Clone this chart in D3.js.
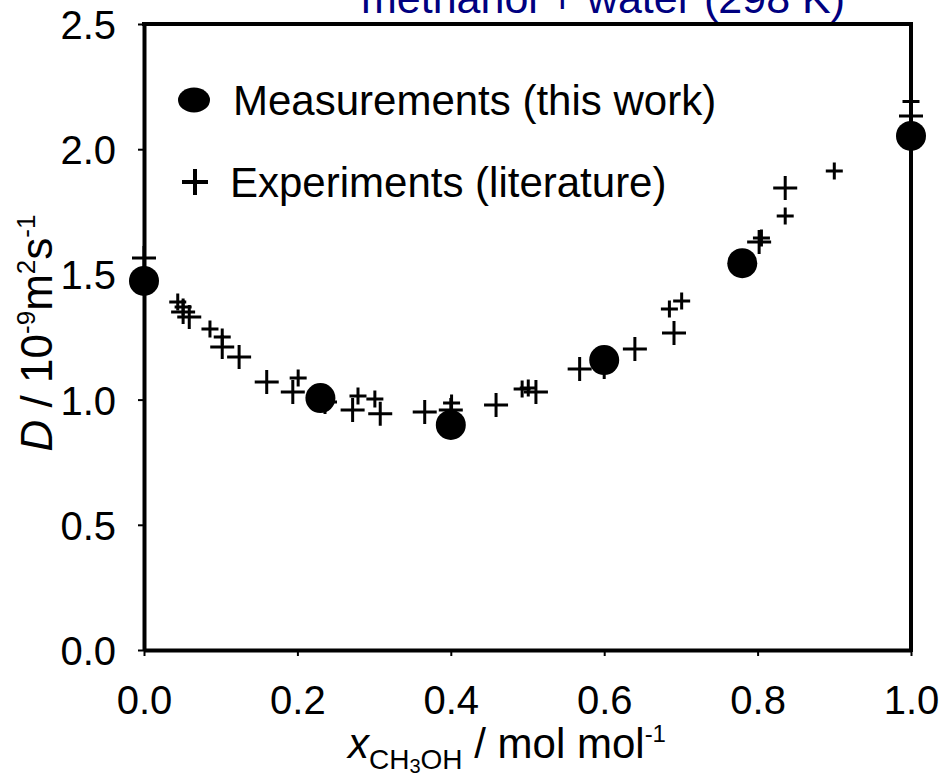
<!DOCTYPE html>
<html>
<head>
<meta charset="utf-8">
<script src="https://cdn.jsdelivr.net/npm/d3@7"></script>
<style>
  html, body { margin: 0; padding: 0; background: #fff; }
  svg { display: block; }
  text { font-family: Arial, "Liberation Sans", Helvetica, sans-serif; }
</style>
</head>
<body>
<svg id="chart" width="945" height="778"></svg>
<script>
// Self-diffusion coefficient of methanol + water mixtures at 298 K
// Measured points (this work)
const measX = [0.0, 0.23, 0.40, 0.60, 0.78, 1.0];
const measD = [1.474, 1.006, 0.899, 1.158, 1.545, 2.053];

// Literature experiments, source set drawn with the smaller cross
const litAX = [0.044, 0.051, 0.086, 0.102, 0.201, 0.279, 0.301, 0.401, 0.493, 0.501, 0.685, 0.701, 0.805, 0.836, 0.900, 1.0];
const litAD = [1.390, 1.370, 1.282, 1.250, 1.086, 1.014, 1.002, 0.986, 1.042, 1.046, 1.362, 1.394, 1.645, 1.733, 1.913, 2.190];

// Literature experiments, source set drawn with the larger cross
const litBX = [0.0, 0.051, 0.059, 0.102, 0.124, 0.160, 0.194, 0.236, 0.272, 0.308, 0.366, 0.400, 0.459, 0.511, 0.568, 0.600, 0.640, 0.691, 0.802, 0.836, 1.0];
const litBD = [1.565, 1.350, 1.330, 1.210, 1.170, 1.070, 1.030, 0.990, 0.958, 0.943, 0.950, 0.958, 0.978, 1.030, 1.122, 1.130, 1.202, 1.266, 1.629, 1.845, 2.133];

const xTicks = [0.0, 0.2, 0.4, 0.6, 0.8, 1.0];
const yTicks = [0.0, 0.5, 1.0, 1.5, 2.0, 2.5];

const svg = d3.select("#chart");
const margin = { left: 144, right: 34, top: 24, bottom: 128 };
const W = 945, H = 778;

const x = d3.scaleLinear().domain([0, 1]).range([margin.left, W - margin.right]);
const y = d3.scaleLinear().domain([0, 2.5]).range([H - margin.bottom, margin.top]);

// Title (navy, partly above the page edge)
svg.append("text")
  .attr("x", 603).attr("y", 13)
  .attr("text-anchor", "middle")
  .attr("font-size", 43)
  .attr("fill", "#000080")
  .text("methanol + water (298 K)");

// Axes
const fmt = d3.format(".1f");
const xAxis = svg.append("g")
  .attr("transform", `translate(0,${y(0)})`)
  .call(d3.axisBottom(x).tickValues(xTicks).tickFormat(fmt).tickSize(6).tickSizeOuter(0).tickPadding(30));
const yAxis = svg.append("g")
  .attr("transform", `translate(${x(0)},0)`)
  .call(d3.axisLeft(y).tickValues(yTicks).tickFormat(fmt).tickSize(6).tickSizeOuter(0).tickPadding(22));

[xAxis, yAxis].forEach(g => {
  g.select(".domain").attr("stroke", "#000").attr("stroke-width", 4);
  g.selectAll(".tick line").attr("stroke", "#000").attr("stroke-width", 2);
  g.selectAll(".tick text").attr("font-size", 40).attr("fill", "#000")
    .style("font-family", "Arial, 'Liberation Sans', sans-serif");
});
yAxis.selectAll(".tick text").attr("dy", "0.36em");
xAxis.selectAll(".tick text").attr("dy", "0.71em");

// Frame: top and right edges
svg.append("path")
  .attr("d", `M${x(0)},${y(2.5)}H${x(1)}V${y(0)}`)
  .attr("fill", "none").attr("stroke", "#000").attr("stroke-width", 4)
  .attr("stroke-linecap", "square");

// Crosses
function cross(sel, xs, ds, half, sw) {
  sel.selectAll(null).data(xs.map((v, i) => [v, ds[i]])).join("path")
    .attr("d", d => {
      const cx = x(d[0]), cy = y(d[1]);
      return `M${cx - half},${cy}H${cx + half}M${cx},${cy - half}V${cy + half}`;
    })
    .attr("stroke", "#000").attr("stroke-width", sw).attr("fill", "none");
}
const plot = svg.append("g");
cross(plot, litBX, litBD, 12, 3);
cross(plot, litAX, litAD, 8.5, 3);

// Measurements
plot.selectAll("circle").data(measX.map((v, i) => [v, measD[i]])).join("circle")
  .attr("cx", d => x(d[0])).attr("cy", d => y(d[1])).attr("r", 15)
  .attr("fill", "#000");

// Legend
const lg = svg.append("g");
lg.append("ellipse").attr("cx", 194).attr("cy", 100).attr("rx", 16).attr("ry", 12.5).attr("fill", "#000");
lg.append("text").attr("x", 233).attr("y", 100).attr("dy", "0.36em").attr("font-size", 42).text("Measurements (this work)");
lg.append("path").attr("d", "M182,182H208M195,169V195").attr("stroke", "#000").attr("stroke-width", 4);
lg.append("text").attr("x", 230).attr("y", 182).attr("dy", "0.36em").attr("font-size", 42).text("Experiments (literature)");

// X axis title: x_CH3OH / mol mol^-1
const xt = svg.append("text")
  .attr("x", 507).attr("y", 758)
  .attr("text-anchor", "middle")
  .attr("font-size", 42);
xt.append("tspan").attr("font-style", "italic").text("x");
xt.append("tspan").attr("font-size", 28).attr("dy", 11).text("CH");
xt.append("tspan").attr("font-size", 20).attr("dy", 4).text("3");
xt.append("tspan").attr("font-size", 28).attr("dy", -4).text("OH");
xt.append("tspan").attr("dy", -11).text(" / mol mol");
xt.append("tspan").attr("font-size", 24).attr("dy", -16).text("-1");

// Y axis title: D / 10^-9 m^2 s^-1
const yt = svg.append("text")
  .attr("transform", "translate(52,333) rotate(-90)")
  .attr("text-anchor", "middle")
  .attr("font-size", 44);
yt.append("tspan").attr("font-style", "italic").text("D");
yt.append("tspan").text(" / 10");
yt.append("tspan").attr("font-size", 26).attr("dy", -17).text("-9");
yt.append("tspan").attr("dy", 17).text("m");
yt.append("tspan").attr("font-size", 26).attr("dy", -17).text("2");
yt.append("tspan").attr("dy", 17).text("s");
yt.append("tspan").attr("font-size", 26).attr("dy", -17).text("-1");
</script>
</body>
</html>
